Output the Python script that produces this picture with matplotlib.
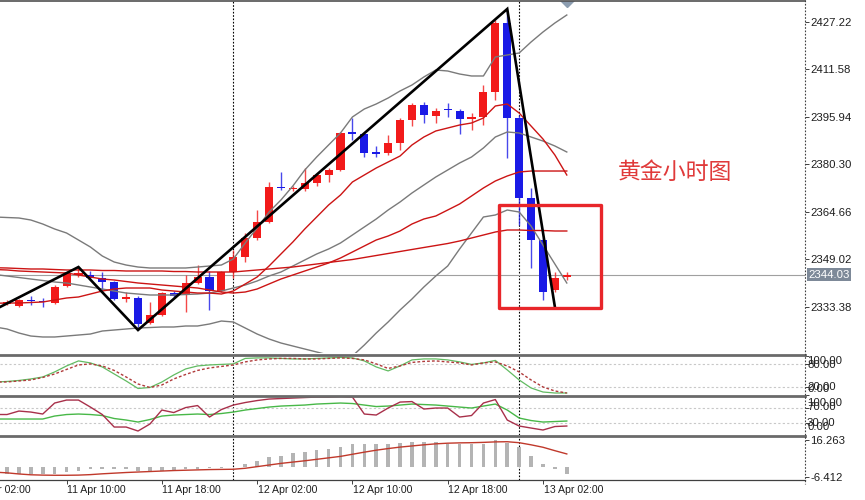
import matplotlib
matplotlib.use("Agg")
import matplotlib.pyplot as plt
import matplotlib.transforms as mtransforms
from matplotlib.patches import Rectangle
from matplotlib.lines import Line2D

# ---------------- data ----------------
time_labels = ["11 Apr 02:00", "11 Apr 10:00", "11 Apr 18:00", "12 Apr 02:00",
               "12 Apr 10:00", "12 Apr 18:00", "13 Apr 02:00"]
time_label_bars = [-3, 5, 13, 21, 29, 37, 45]
day_separator_bars = [19, 43]

# candles: bars 0..47 (hourly)
opens = [2334.50, 2333.70, 2335.50, 2335.20, 2334.69, 2340.29, 2343.90, 2343.91, 2342.92, 2341.61,
         2336.00, 2336.34, 2328.11, 2330.74, 2337.98, 2337.33, 2341.28, 2343.25, 2338.64, 2344.90,
         2349.84, 2356.10, 2361.36, 2372.70, 2372.20, 2372.23, 2374.21, 2376.84, 2378.49, 2390.80,
         2390.34, 2384.20, 2384.08, 2387.37, 2394.95, 2399.89, 2396.26, 2398.40, 2397.91, 2395.28,
         2395.93, 2404.17, 2426.89, 2395.60, 2369.27, 2355.44, 2338.97, 2343.25]
highs = [2335.80, 2336.00, 2337.00, 2336.50, 2340.60, 2344.60, 2346.54, 2345.20, 2344.90, 2342.00,
         2338.30, 2337.00, 2335.00, 2338.30, 2338.60, 2343.90, 2347.20, 2345.20, 2345.20, 2352.10,
         2357.70, 2365.30, 2374.50, 2377.80, 2373.20, 2379.15, 2377.50, 2379.15, 2391.00, 2395.60,
         2390.70, 2386.40, 2390.00, 2395.60, 2400.50, 2400.90, 2398.90, 2400.50, 2398.60, 2397.20,
         2406.50, 2427.90, 2431.50, 2396.60, 2372.60, 2356.10, 2344.90, 2344.90]
lows = [2333.90, 2333.40, 2334.00, 2333.50, 2334.40, 2340.00, 2343.20, 2342.30, 2339.00, 2335.70,
        2335.00, 2325.80, 2327.80, 2330.40, 2336.30, 2331.70, 2340.90, 2332.40, 2338.30, 2343.00,
        2348.20, 2355.40, 2361.00, 2371.90, 2371.70, 2371.60, 2373.30, 2374.50, 2378.20, 2388.40,
        2382.80, 2382.80, 2383.40, 2385.10, 2393.00, 2394.00, 2394.00, 2396.00, 2390.30, 2391.70,
        2393.30, 2401.50, 2382.40, 2360.40, 2346.20, 2335.70, 2338.30, 2342.30]
closes = [2334.90, 2335.68, 2335.20, 2334.90, 2339.96, 2344.24, 2344.60, 2342.92, 2341.61, 2336.01,
          2336.60, 2327.78, 2330.74, 2337.98, 2337.00, 2341.28, 2343.25, 2338.64, 2344.90, 2349.84,
          2356.10, 2361.36, 2372.89, 2372.40, 2372.60, 2374.21, 2376.84, 2378.49, 2390.67, 2390.50,
          2384.08, 2383.90, 2387.37, 2394.95, 2399.89, 2396.59, 2397.91, 2398.10, 2395.28, 2395.93,
          2404.17, 2426.89, 2395.60, 2369.27, 2355.44, 2338.31, 2342.92, 2344.03]

# indicator lines: bars -1..47 (first value is the bar just left of the view)
bb_upper = [2363.01,
            2362.84, 2362.68, 2362.02, 2360.70, 2359.06, 2357.74, 2355.44, 2353.13, 2350.17, 2348.19,
            2347.20, 2346.54, 2346.22, 2346.22, 2346.22, 2346.22, 2346.54, 2346.87, 2347.20, 2349.18,
            2354.45, 2359.39, 2364.65, 2368.61, 2373.22, 2378.48, 2382.76, 2386.72, 2390.67, 2395.94,
            2398.57, 2400.22, 2402.19, 2404.50, 2406.47, 2409.11, 2411.41, 2411.08, 2410.09, 2409.44,
            2409.44, 2415.69, 2416.35, 2417.01, 2420.63, 2423.92, 2426.89, 2429.52]
bb_middle = [2344.07,
             2343.58, 2343.09, 2342.59, 2342.10, 2341.61, 2341.28, 2340.62, 2339.96, 2339.30, 2338.64,
             2337.98, 2337.65, 2337.33, 2337.33, 2337.33, 2337.49, 2337.65, 2337.98, 2338.64, 2339.63,
             2340.62, 2341.94, 2343.58, 2344.90, 2346.87, 2348.85, 2350.83, 2352.47, 2354.45, 2357.08,
             2359.72, 2362.35, 2365.31, 2367.95, 2370.91, 2373.55, 2376.18, 2378.48, 2380.79, 2382.76,
             2385.73, 2389.35, 2391.00, 2390.67, 2389.35, 2388.03, 2386.39, 2384.41]
bb_lower = [2326.79,
            2326.13, 2324.81, 2323.82, 2323.50, 2323.50, 2323.82, 2324.15, 2324.48, 2325.47, 2325.80,
            2326.13, 2326.46, 2326.62, 2326.79, 2326.79, 2327.12, 2327.12, 2327.78, 2328.76, 2328.44,
            2326.46, 2324.48, 2322.84, 2321.52, 2320.53, 2319.54, 2318.56, 2317.57, 2316.91, 2317.24,
            2320.86, 2324.81, 2328.44, 2332.39, 2336.01, 2339.96, 2343.58, 2346.87, 2352.47, 2357.74,
            2363.01, 2363.67, 2365.31, 2364.65, 2360.04, 2353.79, 2347.53, 2341.28]
ma_fast = [2334.60,
           2334.69, 2334.69, 2334.86, 2335.02, 2335.68, 2336.34, 2336.67, 2337.65, 2338.64, 2339.30,
           2339.63, 2339.63, 2339.63, 2338.97, 2338.64, 2338.31, 2337.98, 2337.98, 2337.65, 2338.64,
           2340.95, 2343.25, 2346.87, 2350.83, 2354.78, 2359.06, 2363.01, 2366.96, 2370.25, 2374.53,
           2376.84, 2379.14, 2381.12, 2383.09, 2386.72, 2389.35, 2391.33, 2392.31, 2393.30, 2393.96,
           2395.61, 2399.56, 2400.22, 2397.25, 2392.97, 2388.69, 2383.42, 2376.84]
ma_mid = [2345.72,
          2345.56, 2345.23, 2345.06, 2344.90, 2344.73, 2344.57, 2343.91, 2343.25, 2342.59, 2342.26,
          2341.77, 2341.28, 2340.95, 2340.62, 2340.29, 2339.96, 2339.63, 2338.97, 2338.31, 2337.98,
          2338.31, 2339.30, 2340.95, 2342.59, 2343.91, 2345.23, 2346.54, 2347.86, 2349.51, 2351.48,
          2353.46, 2355.44, 2356.75, 2358.40, 2360.70, 2362.35, 2363.34, 2365.31, 2367.29, 2369.92,
          2372.56, 2374.86, 2376.51, 2377.83, 2378.15, 2378.15, 2378.15, 2378.15]
ma_slow = [2346.30,
           2346.22, 2346.05, 2345.89, 2345.89, 2345.72, 2345.56, 2345.56, 2345.56, 2345.39, 2345.39,
           2345.23, 2345.23, 2345.23, 2345.23, 2345.06, 2345.06, 2344.90, 2344.90, 2344.90, 2344.90,
           2345.23, 2345.56, 2345.89, 2346.22, 2346.54, 2347.04, 2347.53, 2348.03, 2348.52, 2349.01,
           2349.67, 2350.33, 2350.99, 2351.65, 2352.31, 2352.97, 2353.62, 2354.28, 2355.11, 2356.09,
           2357.08, 2358.07, 2358.73, 2358.73, 2358.56, 2358.56, 2358.40, 2358.40]

zigzag_bars = [-1, 6, 11, 42, 46]
zigzag_prices = [2332.55, 2346.54, 2325.80, 2431.50, 2333.40]

price_ticks = [2427.22, 2411.58, 2395.94, 2380.30, 2364.66, 2349.02, 2333.38]
last_price = 2344.03

stoch_k = [33.0,
           34.5, 37.1, 41.0, 46.2, 59.3, 74.9, 88.0, 82.8, 72.3, 54.0,
           35.8, 16.2, 18.8, 33.0, 51.4, 67.1, 74.9, 77.5, 78.9, 80.2,
           94.5, 95.8, 95.8, 94.5, 93.2, 93.2, 94.5, 95.8, 97.1, 95.8,
           88.0, 72.3, 61.9, 74.9, 90.6, 93.2, 93.2, 90.6, 85.4, 78.9,
           82.8, 89.3, 64.5, 38.4, 17.5, 7.0, 4.4, 4.4]
stoch_d = [33.0,
           33.2, 35.8, 38.4, 44.9, 54.0, 65.8, 77.5, 80.2, 74.9, 63.2,
           46.2, 27.9, 18.8, 25.3, 41.0, 52.7, 63.2, 69.7, 73.6, 77.5,
           85.4, 90.6, 93.2, 94.5, 94.5, 93.2, 93.2, 94.5, 95.8, 94.5,
           90.6, 80.2, 68.4, 74.9, 84.1, 86.7, 88.0, 85.4, 82.8, 77.5,
           82.8, 85.4, 74.9, 59.3, 38.4, 20.1, 9.7, 4.4]
stoch_levels = [80, 20]
stoch_labels = ["100.00", "80.00", "20.00", "0.00"]

osc_fast = [52.0,
            51.9, 60.9, 58.3, 53.2, 81.6, 89.3, 89.3, 71.2, 51.9, 19.6,
            19.6, 9.3, 27.4, 63.5, 57.0, 69.9, 75.1, 45.4, 64.8, 76.4,
            82.9, 88.0, 91.9, 93.2, 94.5, 95.8, 97.0, 97.0, 98.3, 97.0,
            53.2, 50.6, 68.7, 84.1, 85.4, 66.1, 68.7, 68.7, 45.4, 49.3,
            81.6, 90.6, 37.7, 22.2, 17.0, 11.9, 20.9, 22.2]
osc_slow = [40.3,
            40.3, 40.3, 40.3, 40.3, 48.0, 51.9, 53.2, 51.9, 49.3, 41.6,
            37.7, 32.5, 39.0, 48.0, 50.6, 51.9, 53.2, 51.9, 54.5, 58.3,
            63.5, 67.4, 71.2, 73.8, 75.1, 76.4, 79.0, 80.3, 81.6, 80.3,
            76.4, 72.5, 73.8, 76.4, 79.0, 77.7, 76.4, 73.8, 71.2, 68.7,
            73.8, 79.0, 63.5, 42.8, 36.4, 32.5, 33.8, 35.1]
osc_levels = [70, 30]
osc_labels = ["100.00", "70.00", "30.00", "0.00"]

# MACD histogram: bars 0..47 ; signal: bars -1..47
macd_hist = [-4.3, -4.3, -4.4, -4.4, -4.3, -3.3, -2.3, -1.2, -1.0, -1.0,
             -1.0, -2.3, -2.3, -2.3, -1.8, -1.2, -1.0, -0.9, -0.6, -0.3,
             1.7, 3.7, 6.0, 6.9, 8.4, 9.4, 10.4, 11.0, 12.5, 13.9,
             13.9, 13.9, 13.9, 14.9, 15.2, 15.2, 15.2, 13.9, 13.9, 13.9,
             13.9, 16.263, 14.9, 12.5, 6.7, 1.7, -1.4, -4.5]
macd_signal = [-3.2,
               -3.6, -4.3, -4.8, -5.0, -5.1, -5.1, -5.0, -4.7, -4.2, -3.8,
               -3.4, -3.1, -2.8, -2.5, -2.2, -2.0, -1.8, -1.6, -1.5, -1.4,
               -0.8, 0.2, 1.2, 2.2, 3.0, 3.8, 4.7, 5.6, 6.5, 7.8,
               9.1, 10.3, 11.3, 12.2, 12.9, 13.6, 14.2, 14.6, 14.8, 14.9,
               15.1, 15.4, 15.5, 14.9, 13.6, 12.1, 10.0, 8.0]
macd_labels = ["16.263", "-6.412"]
macd_label_values = [16.263, -6.412]

title_text = "黄金小时图"

# ---------------- figure ----------------
W, H = 865, 500
plt.rcParams['font.family'] = ['Liberation Sans', 'DejaVu Sans']
fig = plt.figure(figsize=(W / 100, H / 100), dpi=100)
fig.patch.set_facecolor('white')

def fx(px):
    return px / W

def fy(py):
    return 1 - py / H

def axes_box(top, bottom):
    return [0, fy(bottom), fx(805), (bottom - top) / H]

ax = fig.add_axes(axes_box(1, 353))
ax_st = fig.add_axes(axes_box(356, 395))
ax_os = fig.add_axes(axes_box(397, 435))
ax_md = fig.add_axes(axes_box(437, 480))
all_axes = [ax, ax_st, ax_os, ax_md]

n = len(opens)
bars = list(range(n))
line_bars = list(range(-1, n))
xlim = (-0.588, 67.0)
TXT = '#1e1e1e'
FS = 8.2

for a in all_axes:
    a.set_xlim(*xlim)
    a.set_facecolor('white')
    for s in a.spines.values():
        s.set_visible(False)
    a.tick_params(axis='x', bottom=False, labelbottom=False)
    a.yaxis.tick_right()
    a.tick_params(axis='y', direction='out', length=3, width=0.7, color='#404040',
                  labelsize=FS, labelcolor=TXT, pad=1.0)
    for b in day_separator_bars:
        a.axvline(b, color='black', lw=0.8, ls=(0, (1.5, 1.5)), zorder=1)

# ---- main chart ----
ax.set_ylim(2318.23, 2434.13)
ax.set_yticks(price_ticks)
ax.set_yticklabels([f"{p:.2f}" for p in price_ticks])
ax.axhline(last_price, color='#a0a0a0', lw=0.8, zorder=2)

bull, bear = '#f21a1a', '#1a1ae6'
body_w = 0.68
for i in bars:
    o, h, l, c = opens[i], highs[i], lows[i], closes[i]
    col = bull if c >= o else bear
    ax.vlines(i, l, h, color=col, lw=1.0, zorder=3, alpha=0.8)
    lo = min(o, c)
    ht = max(abs(c - o), 0.35)
    ax.add_patch(Rectangle((i - body_w / 2, lo), body_w, ht, facecolor=col,
                           edgecolor='none', zorder=4))

ax.plot(line_bars, bb_upper, color='#7a7a7a', lw=1.0, zorder=5)
ax.plot(line_bars, bb_middle, color='#7a7a7a', lw=1.0, zorder=5)
ax.plot(line_bars, bb_lower, color='#7a7a7a', lw=1.0, zorder=5)
ax.plot(line_bars, ma_slow, color='#cc1414', lw=1.0, zorder=5)
ax.plot(line_bars, ma_mid, color='#cc1414', lw=1.0, zorder=5)
ax.plot(line_bars, ma_fast, color='#cc1414', lw=1.0, zorder=5)
ax.plot(zigzag_bars, zigzag_prices, color='black', lw=1.9, zorder=6,
        solid_joinstyle='miter')

# marker at top
ax.plot([47], [2434.46], marker='D', ms=7, color='#8c9db0', zorder=7, clip_on=True)

# red box annotation
ax.add_patch(Rectangle((41.3, 2333.05), 8.6, 33.9, fill=False, edgecolor='#e8262a',
                       lw=2.4, zorder=8, joinstyle='round', clip_on=False))
fig.text(fx(675), fy(172), title_text, color='#e03a3a', fontsize=16.5,
         family=['Noto Sans CJK SC', 'DejaVu Sans'], ha='center', va='center')

# last price label
blend = mtransforms.blended_transform_factory(ax.transAxes, ax.transData)
ax.text(1.0045, last_price, f"{last_price:.2f}", transform=blend, ha='left', va='center',
        fontsize=FS, color='white', clip_on=False,
        bbox=dict(boxstyle='square,pad=0.12', facecolor='#7d8998', edgecolor='none'))

# ---- stochastic ----
ax_st.set_ylim(-0.8, 100.8)
for lv in stoch_levels:
    ax_st.axhline(lv, color='#c8c8c8', lw=0.8, ls=(0, (2, 2)), zorder=1)
ax_st.plot(line_bars, stoch_k, color='#62bb62', lw=0.9, zorder=3)
ax_st.plot(line_bars, stoch_d, color='#b03a3a', lw=1.0, ls=(0, (2, 1.5)), zorder=3)
ax_st.set_yticks([100, 80, 20, 0])
ax_st.set_yticklabels([])
for lbl, py in zip(stoch_labels, [361.5, 364.5, 386.5, 389]):
    fig.text(fx(807), fy(py), lbl, fontsize=FS, color=TXT, ha='left', va='center')

# ---- oscillator ----
ax_os.set_ylim(-1.0, 97.2)
for lv in osc_levels:
    ax_os.axhline(lv, color='#c8c8c8', lw=0.8, ls=(0, (2, 2)), zorder=1)
ax_os.plot(line_bars, osc_slow, color='#48b848', lw=1.0, zorder=3)
ax_os.plot(line_bars, osc_fast, color='#a8304a', lw=1.0, zorder=3)
ax_os.set_yticks([70, 30])
ax_os.set_yticklabels([])
for lbl, py in zip(osc_labels, [403.5, 407.5, 423, 427]):
    fig.text(fx(807), fy(py), lbl, fontsize=FS, color=TXT, ha='left', va='center')

# ---- MACD ----
ax_md.set_ylim(-8.0, 18.4)
ax_md.bar(bars, macd_hist, width=0.3, color='#b4b4b4', zorder=2)
ax_md.plot(line_bars, macd_signal, color='#c0392b', lw=1.0, zorder=3)
ax_md.set_yticks(macd_label_values)
ax_md.set_yticklabels(macd_labels)

# time axis
vis = [b for b in time_label_bars if xlim[0] <= b <= xlim[1]]
ax_md.set_xticks(vis)
ax_md.tick_params(axis='x', bottom=True, labelbottom=False, direction='out', length=3,
                  width=0.7, color='#404040')
tblend = mtransforms.blended_transform_factory(ax_md.transData, ax_md.transAxes)
for b, lbl in zip(time_label_bars, time_labels):
    ax_md.text(b + 0.05, -0.235, lbl, transform=tblend, ha='left', va='center',
               fontsize=7.6, color=TXT, clip_on=False)

# ---- frame / separators ----
def hline(py, lw, color):
    fig.add_artist(Line2D([0, fx(805)], [fy(py), fy(py)], lw=lw, color=color))

hline(0.6, 1.2, '#505050')
hline(354.8, 2.0, '#6a6a6a')
hline(396.0, 2.0, '#6a6a6a')
hline(435.8, 2.0, '#6a6a6a')
hline(480.3, 0.9, '#404040')
fig.add_artist(Line2D([fx(805), fx(805)], [fy(0), fy(484)], lw=0.8, color='#404040',
                      ls=(0, (1.5, 1.5))))

fig.savefig('out.png', dpi=100, facecolor='white')
